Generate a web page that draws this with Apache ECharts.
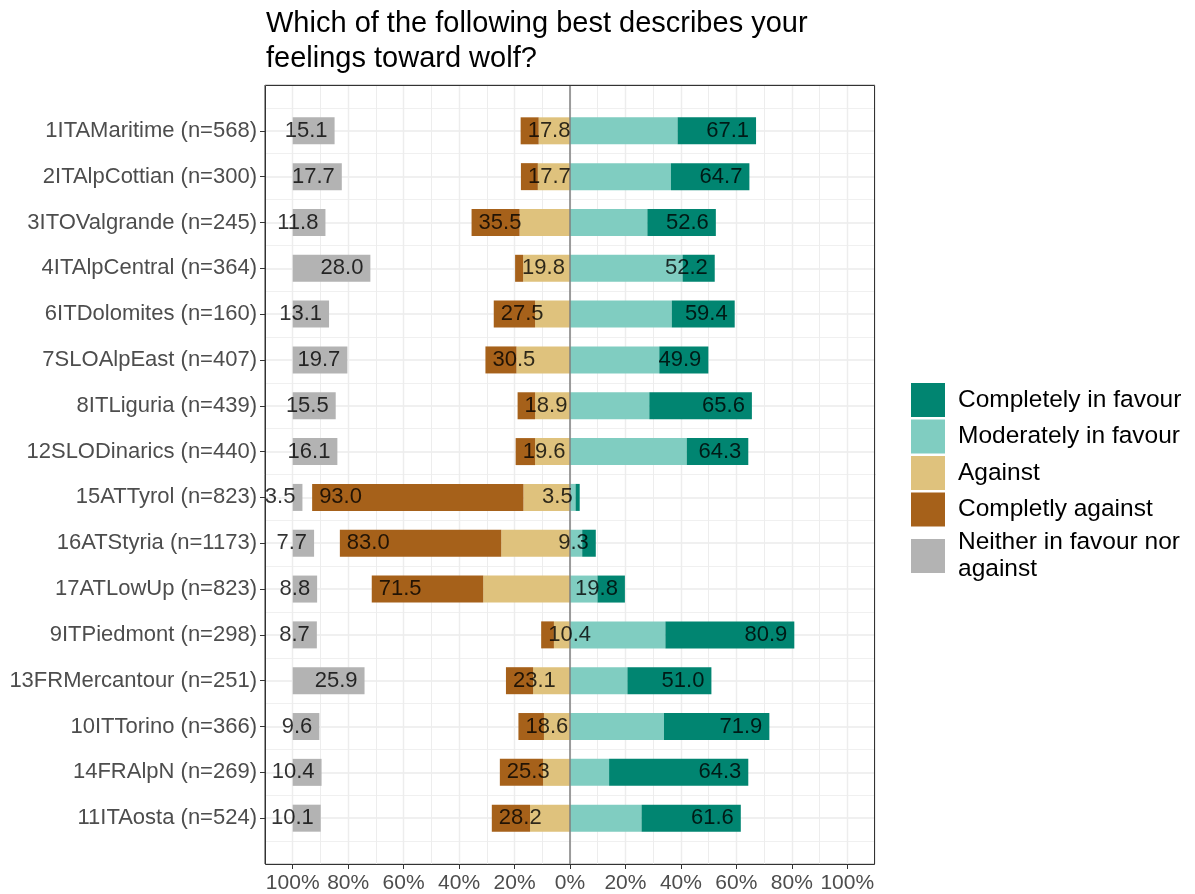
<!DOCTYPE html>
<html>
<head>
<meta charset="utf-8">
<script src="https://cdn.jsdelivr.net/npm/echarts@6/dist/echarts.min.js"></script>
<style>
html,body{margin:0;padding:0;background:#fff;}
#chart{width:1195px;height:894px;}
</style>
</head>
<body>
<div id="chart"></div>
<script>
// ---- data (percent), top row first ----
const categories = [
  "1ITAMaritime (n=568)", "2ITAlpCottian (n=300)", "3ITOValgrande (n=245)", "4ITAlpCentral (n=364)",
  "6ITDolomites (n=160)", "7SLOAlpEast (n=407)", "8ITLiguria (n=439)", "12SLODinarics (n=440)",
  "15ATTyrol (n=823)", "16ATStyria (n=1173)", "17ATLowUp (n=823)", "9ITPiedmont (n=298)",
  "13FRMercantour (n=251)", "10ITTorino (n=366)", "14FRAlpN (n=269)", "11ITAosta (n=524)"
];
const moderatelyInFavour = [38.8, 36.4, 27.9, 40.6, 36.7, 32.2, 28.6, 42.1, 2.0, 4.4, 9.9, 34.4, 20.7, 33.9, 14.1, 25.8];
const completelyInFavour = [28.3, 28.3, 24.7, 11.6, 22.7, 17.7, 37.0, 22.2, 1.5, 4.9, 9.9, 46.5, 30.3, 38.0, 50.2, 35.8];
const against            = [11.3, 11.6, 18.2, 16.9, 12.6, 19.3, 12.6, 12.6, 16.8, 24.8, 31.3, 5.8, 13.3, 9.4, 9.7, 14.4];
const completelyAgainst  = [6.5, 6.1, 17.3, 2.9, 14.9, 11.2, 6.3, 7.0, 76.2, 58.2, 40.2, 4.6, 9.8, 9.2, 15.6, 13.8];
const neither            = [15.1, 17.7, 11.8, 28.0, 13.1, 19.7, 15.5, 16.1, 3.5, 7.7, 8.8, 8.7, 25.9, 9.6, 10.4, 10.1];
const xTickValues = [-100, -80, -60, -40, -20, 0, 20, 40, 60, 80, 100];
const titleText = "Which of the following best describes your\nfeelings toward wolf?";
const seriesNames = ["Completely in favour", "Moderately in favour", "Against", "Completly against", "Neither in favour nor against"];

// ---- build ----
const yCats = [" "].concat(categories, ["  "]);
const pad = a => ["-"].concat(a, ["-"]);
const neg = a => a.map(v => -v);
const posTotal = categories.map((c, i) => moderatelyInFavour[i] + completelyInFavour[i]);
const negTotal = categories.map((c, i) => against[i] + completelyAgainst[i]);
const posLabelData = posTotal.map((t, i) => [t, i + 1, t.toFixed(1)]);
const negLabelData = negTotal.map((t, i) => [-t, i + 1, t.toFixed(1)]);
const neuLabelData = neither.map((n, i) => [-100 + n, i + 1, n.toFixed(1)]);
const neuBase = neither.map(() => -100);

const FONT = "Liberation Sans, Arial, sans-serif";
const colors = {
  cf: "#018571", mf: "#80CDC1", ag: "#DFC27D", ca: "#A6611A", ne: "#B3B3B3"
};
const GRID = { left: 265, top: 85, width: 610, height: 780 };
const BW = 27;
const barCommon = { type: "bar", barWidth: BW, barGap: "-100%", silent: true, xAxisIndex: 0, yAxisIndex: 0 };
const labelSeries = (data, pos) => ({
  type: "scatter", data: data, symbolSize: 0, silent: true, z: 10,
  xAxisIndex: 0, yAxisIndex: 0,
  label: { show: true, position: pos, distance: 7, formatter: p => p.value[2],
           color: "#000", fontSize: 22, fontFamily: FONT }
});

const chart = echarts.init(document.getElementById("chart"), null, { renderer: "canvas" });
chart.setOption({
  animation: false,
  backgroundColor: "#fff",
  title: {
    text: titleText, left: 261, top: 1,
    textStyle: { fontSize: 29, fontWeight: "normal", color: "#000", fontFamily: FONT, lineHeight: 35 }
  },
  legend: {
    orient: "vertical", left: 911, top: 383, padding: 0,
    itemWidth: 34, itemHeight: 34, itemGap: 2.5,
    icon: "rect",
    data: seriesNames,
    formatter: n => n === "Neither in favour nor against" ? "Neither in favour nor\nagainst" : n,
    textStyle: { fontSize: 24.5, color: "#000", fontFamily: FONT, lineHeight: 27, padding: [0, 0, 0, 8] },
    selectedMode: false
  },
  grid: {
    left: GRID.left, top: GRID.top, width: GRID.width, height: GRID.height,
    show: true, borderColor: "#333333", borderWidth: 1, backgroundColor: "#fff"
  },
  graphic: [{
    type: "rect", z: 100, silent: true,
    shape: { x: GRID.left + 0.5, y: GRID.top + 0.5, width: GRID.width - 1, height: GRID.height - 1 },
    style: { fill: null, stroke: "#333333", lineWidth: 1 }
  }],
  xAxis: [{
    type: "value", min: -110, max: 110, interval: 10, position: "bottom",
    axisLine: { show: false, onZero: false },
    axisTick: { show: true, length: 5, lineStyle: { color: "#333" }, customValues: xTickValues },
    axisLabel: { customValues: xTickValues, formatter: v => Math.abs(v) + "%",
                 color: "#4D4D4D", fontSize: 21, fontFamily: FONT, margin: 9 },
    splitLine: { show: true, lineStyle: { color: "#EBEBEB", width: 1.4 } }
  }, {
    type: "value", min: -110, max: 110, interval: 10, position: "top",
    axisLine: { show: false, onZero: false }, axisTick: { show: false }, axisLabel: { show: false },
    splitLine: { show: true, lineStyle: { color: "#EDEDED", width: 1 } }
  }],
  yAxis: [{
    type: "category", data: yCats, inverse: true, boundaryGap: false, position: "left",
    axisLine: { show: false, onZero: false },
    axisTick: { show: true, length: 5, lineStyle: { color: "#333" },
                interval: (idx, val) => idx > 0 && idx < yCats.length - 1 },
    axisLabel: { interval: 0, color: "#4D4D4D", fontSize: 22, fontFamily: FONT, margin: 8 },
    splitLine: { show: false }
  }, {
    type: "value", min: 0, max: 17, interval: 1, inverse: true, position: "right",
    axisLine: { show: false, onZero: false }, axisTick: { show: false }, axisLabel: { show: false },
    splitLine: { show: true, lineStyle: { color: "#EBEBEB", width: 1.5 } },
    minorTick: { show: false, splitNumber: 2 },
    minorSplitLine: { show: true, lineStyle: { color: "#F0F0F0", width: 1 } }
  }],
  series: [
    Object.assign({}, barCommon, { name: seriesNames[1], stack: "main", data: pad(moderatelyInFavour),
      itemStyle: { color: colors.mf },
      markLine: { silent: true, symbol: ["none", "none"], label: { show: false },
                  lineStyle: { color: "#7F7F7F", width: 1.5, type: "solid" },
                  data: [{ xAxis: 0 }] } }),
    Object.assign({}, barCommon, { name: seriesNames[0], stack: "main", data: pad(completelyInFavour),
      itemStyle: { color: colors.cf } }),
    Object.assign({}, barCommon, { name: seriesNames[2], stack: "main", data: pad(neg(against)),
      itemStyle: { color: colors.ag } }),
    Object.assign({}, barCommon, { name: seriesNames[3], stack: "main", data: pad(neg(completelyAgainst)),
      itemStyle: { color: colors.ca } }),
    Object.assign({}, barCommon, { name: "_base", stack: "neu", stackStrategy: "all", data: pad(neuBase),
      itemStyle: { color: "rgba(0,0,0,0)" } }),
    Object.assign({}, barCommon, { name: seriesNames[4], stack: "neu", stackStrategy: "all", data: pad(neither),
      itemStyle: { color: colors.ne } }),
    labelSeries(posLabelData, "left"),
    labelSeries(negLabelData, "right"),
    labelSeries(neuLabelData, "left")
  ]
});
</script>
</body>
</html>
